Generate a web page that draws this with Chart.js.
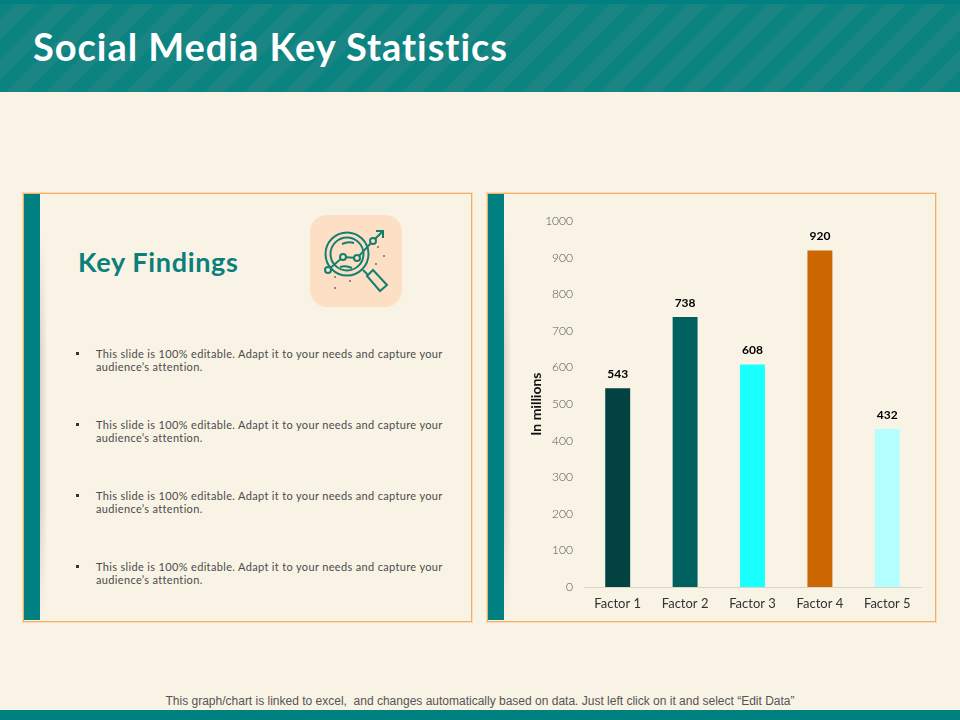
<!DOCTYPE html>
<html>
<head>
<meta charset="utf-8">
<script src="https://cdn.jsdelivr.net/npm/chart.js@4"></script>
<style>
html,body{margin:0;padding:0;}
body{width:960px;height:720px;position:relative;overflow:hidden;background:#f9f3e5;font-family:Lato,"Open Sans",sans-serif;}
.head{position:absolute;left:0;top:0;width:960px;height:92px;background:repeating-linear-gradient(135deg,#0b8381 0 14px,#1a8583 14px 28px);}
.headtop{position:absolute;left:0;top:0;width:960px;height:4px;background:#008080;}
h1{position:absolute;left:33px;top:23px;margin:0;font:700 38px/46px Lato,sans-serif;color:#fff;letter-spacing:.96px;white-space:nowrap;}
.panel{position:absolute;outline:1px solid #f0b060;box-shadow:0 0 0 2px rgba(240,176,96,.3);background:transparent;}
.bar{position:absolute;left:0;top:0;width:16px;height:426px;background:#008080;}
.shade{position:absolute;left:16px;top:40px;width:7px;height:386px;background:linear-gradient(90deg,rgba(120,115,100,.25),rgba(120,115,100,0));-webkit-mask-image:linear-gradient(180deg,transparent 0,#000 30%,#000 70%,transparent 100%);}
#p1{left:24px;width:447px;top:194px;height:427px}#p2{left:488px;width:447px;top:194px;height:427px}
h2{position:absolute;left:78px;top:245px;margin:0;font:700 27px/34px Lato,sans-serif;color:#0a7f7c;white-space:nowrap;letter-spacing:.67px;}
.item{position:absolute;left:96px;width:360px;font:400 11px/13px Lato,sans-serif;color:#4b4b4b;letter-spacing:.34px;white-space:nowrap;}
.item:before{content:"";position:absolute;left:-20px;top:5px;width:3px;height:3px;background:#333;}
.foot{position:absolute;left:0;top:694px;width:960px;text-align:center;font:400 12px/14px "Liberation Sans",sans-serif;color:#555;white-space:nowrap;}
.bottom{position:absolute;left:0;top:710px;width:960px;height:10px;background:#008080;}
#icon{position:absolute;left:310px;top:215px;width:92px;height:92px;}
#wrap{position:absolute;left:520px;top:203px;width:410px;height:417px;}
</style>
</head>
<body>
<div class="head"></div><div class="headtop"></div>
<h1>Social Media Key Statistics</h1>
<div class="panel" id="p1"><div class="bar"></div><div class="shade"></div></div>
<div class="panel" id="p2"><div class="bar"></div><div class="shade"></div></div>
<h2>Key Findings</h2>
<svg id="icon" viewBox="0 0 92 92">
<rect width="92" height="92" rx="17" fill="#fddfc6"/>
<g fill="none" stroke="#13806f" stroke-width="2">
<circle cx="37" cy="39" r="21.5"/><circle cx="37" cy="39" r="16.5"/>
<path d="M18 55 L33 42 L47 43 L63 26 L72 17"/><path d="M66 16 H73 V23"/>
<path d="M53 55 L58 60"/><path d="M57 61 L63 55 L77 70 L70 76 Z"/>
<path d="M32 29 Q38 26 44 28"/><path d="M30 52 Q36 50 42 53"/>
</g>
<g fill="#fddfc6" stroke="#13806f" stroke-width="2"><circle cx="18" cy="55" r="3"/><circle cx="33" cy="42" r="3"/><circle cx="47" cy="43" r="3"/><circle cx="63" cy="26" r="3"/></g>
<g fill="#7a6a55"><circle cx="25" cy="62" r="1"/><circle cx="40" cy="66" r="1"/><circle cx="25" cy="73" r="1"/><circle cx="68" cy="32" r="1"/><circle cx="74" cy="41" r="1"/><circle cx="66" cy="49" r="1"/></g>
</svg>
<div class="item" style="top:347px">This slide is 100% editable. Adapt it to your needs and capture your<br>audience’s attention.</div>
<div class="item" style="top:418px">This slide is 100% editable. Adapt it to your needs and capture your<br>audience’s attention.</div>
<div class="item" style="top:489px">This slide is 100% editable. Adapt it to your needs and capture your<br>audience’s attention.</div>
<div class="item" style="top:560px">This slide is 100% editable. Adapt it to your needs and capture your<br>audience’s attention.</div>
<div id="wrap"><canvas id="c" width="410" height="417"></canvas></div>
<div class="foot">This graph/chart is linked to excel,&nbsp; and changes automatically based on data. Just left click on it and select “Edit Data”</div>
<div class="bottom"></div>
<script>
const categories = ["Factor 1", "Factor 2", "Factor 3", "Factor 4", "Factor 5"];
const values = [543, 738, 608, 920, 432];
const barColors = ["#024241", "#006060", "#1affff", "#cc6600", "#b3ffff"];
const axisTitle = "In millions";

const valueLabels = {
  id: "valueLabels",
  afterDatasetsDraw(chart) {
    const ctx = chart.ctx;
    const meta = chart.getDatasetMeta(0);
    ctx.save();
    ctx.font = "700 12px Lato, sans-serif";
    ctx.fillStyle = "#000";
    ctx.textAlign = "center";
    ctx.textBaseline = "bottom";
    meta.data.forEach((el, i) => ctx.fillText(String(values[i]), el.x, el.y - 8));
    ctx.restore();
  }
};

new Chart(document.getElementById("c"), {
  type: "bar",
  data: {
    labels: categories,
    datasets: [{ data: values, backgroundColor: barColors, barPercentage: 0.37, categoryPercentage: 1, borderWidth: 0 }]
  },
  plugins: [valueLabels],
  options: {
    responsive: false,
    animation: false,
    devicePixelRatio: 1,
    layout: { padding: { top: 4, right: 9, left: 0, bottom: 0 } },
    plugins: { legend: { display: false }, tooltip: { enabled: false }, title: { display: false } },
    scales: {
      x: {
        grid: { display: false, drawTicks: false },
        border: { display: true, color: "#d9d5c8", width: 1 },
        ticks: { color: "#333", font: { family: "Lato", size: 13 }, padding: 9, maxRotation: 0 },
        afterFit(s) { s.height = 33; }
      },
      y: {
        min: 0, max: 1000,
        grid: { display: false, drawTicks: false },
        border: { display: false },
        ticks: { stepSize: 100, color: "#555", font: { family: "Lato", size: 12, weight: "300" }, padding: 11, callback: v => String(v) },
        title: { display: true, text: axisTitle, color: "#111", font: { family: "Lato", size: 14, weight: "700" }, padding: { top: 8, bottom: 0 } },
        afterFit(s) { s.width = 64; }
      }
    }
  }
});
</script>
</body>
</html>
